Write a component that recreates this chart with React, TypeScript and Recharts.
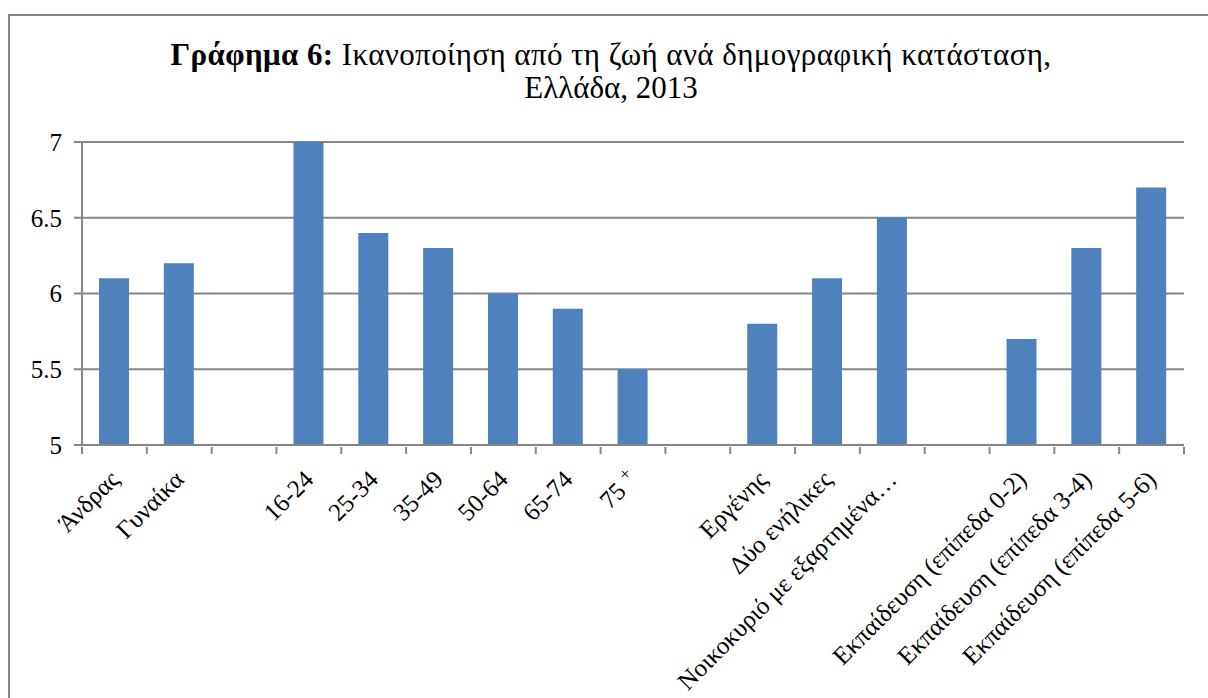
import React from 'react';
import { BarChart, Bar, XAxis, YAxis, CartesianGrid } from 'recharts';

const categories = [
  'Άνδρας',
  'Γυναίκα',
  '',
  '16-24',
  '25-34',
  '35-49',
  '50-64',
  '65-74',
  '75 +',
  '',
  'Εργένης',
  'Δύο ενήλικες',
  'Νοικοκυριό με εξαρτημένα…',
  '',
  'Εκπαίδευση (επίπεδα 0-2)',
  'Εκπαίδευση (επίπεδα 3-4)',
  'Εκπαίδευση (επίπεδα 5-6)',
];

const satisfaction: (number | null)[] = [
  6.1, 6.2, null, 7.0, 6.4, 6.3, 6.0, 5.9, 5.5, null, 5.8, 6.1, 6.5, null, 5.7, 6.3, 6.7,
];

const yTicks = [5, 5.5, 6, 6.5, 7];

const data = categories.map((name, i) => ({ key: `c${i}`, name, value: satisfaction[i] }));

const W = 1200;
const H = 684;
const M = { top: 128, right: 24, left: 0, bottom: 0 };
const Y_W = 74;
const AXIS = '#868686';
const FONT = '"Liberation Serif", "Times New Roman", serif';
const halfBand = (W - M.right - Y_W) / categories.length / 2;

const XTick = (props: any) => {
  const { x, y, payload, index } = props;
  const i = payload.index ?? index;
  const label = categories[i] ?? '';
  const isLast = i === categories.length - 1;
  const y0 = y - 8;
  let main = label;
  let sup = '';
  if (label === '75 +') {
    main = '75 ';
    sup = '+';
  }
  return (
    <g>
      <line x1={x - halfBand} x2={x - halfBand} y1={y0} y2={y0 + 7} stroke={AXIS} strokeWidth={2} />
      {isLast && (
        <line x1={x + halfBand} x2={x + halfBand} y1={y0} y2={y0 + 7} stroke={AXIS} strokeWidth={2} />
      )}
      {label && (
        <text
          transform={`translate(${x + 6},${y0 + 34}) rotate(-45)`}
          textAnchor="end"
          fontFamily={FONT}
          fontSize={25}
          fill="#000"
        >
          {main}
          {sup && (
            <tspan fontSize={18} dy={-9}>
              {sup}
            </tspan>
          )}
        </text>
      )}
    </g>
  );
};

export default function App() {
  return (
    <div
      style={{
        position: 'absolute',
        left: 8,
        top: 14,
        width: W,
        height: H,
        overflow: 'hidden',
        background: '#fff',
      }}
    >
      <div
        style={{
          position: 'absolute',
          left: 0,
          top: 0,
          width: W + 100,
          height: H + 100,
          border: `2px solid ${AXIS}`,
          boxSizing: 'border-box',
        }}
      />
      <div
        style={{
          position: 'absolute',
          left: 0,
          top: 24,
          width: 1206,
          textAlign: 'center',
          fontFamily: FONT,
          fontSize: 31,
          lineHeight: '33px',
          color: '#000',
        }}
      >
        <span style={{ letterSpacing: '0.4px' }}>
          <b>Γράφημα 6:</b> Ικανοποίηση από τη ζωή ανά δημογραφική κατάσταση,
        </span>
        <br />
        Ελλάδα, 2013
      </div>
      <div style={{ position: 'absolute', left: 0, top: 0 }}>
        <BarChart width={W} height={H} data={data} margin={M} barSize={30}>
          <CartesianGrid vertical={false} stroke={AXIS} strokeWidth={2} />
          <XAxis
            dataKey="key"
            height={253}
            interval={0}
            tickLine={false}
            axisLine={{ stroke: AXIS, strokeWidth: 2 }}
            tickSize={8}
            tick={<XTick />}
          />
          <YAxis
            width={Y_W}
            domain={[5, 7]}
            ticks={yTicks}
            allowDataOverflow
            axisLine={{ stroke: AXIS, strokeWidth: 2 }}
            tickLine={{ stroke: AXIS, strokeWidth: 2 }}
            tickSize={8}
            tickMargin={12}
            tick={{ fontFamily: FONT, fontSize: 25, fill: '#000' }}
          />
          <Bar dataKey="value" fill="#4F81BD" isAnimationActive={false} />
        </BarChart>
      </div>
    </div>
  );
}
